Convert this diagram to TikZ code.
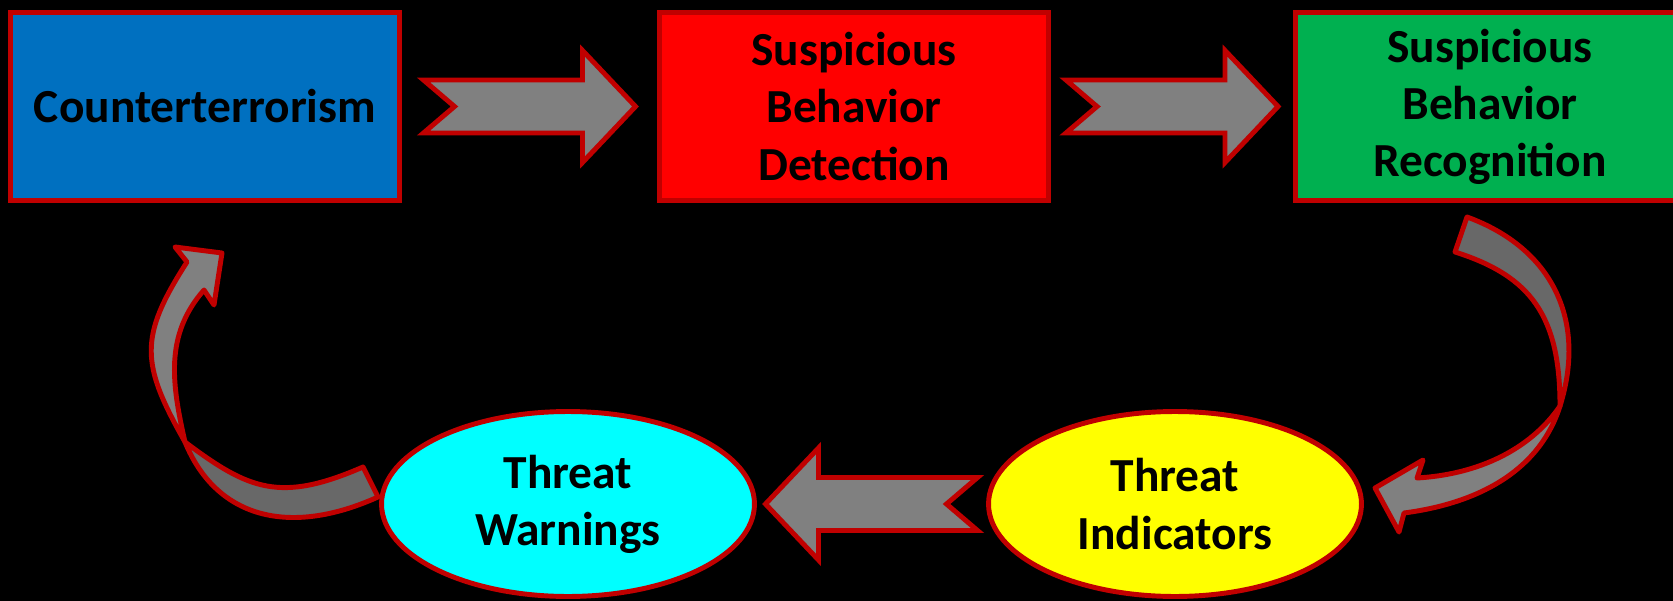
\documentclass[tikz,border=0pt]{standalone}
\usepackage{fontspec}
\newfontfamily\stagefont{Carlito}
\usetikzlibrary{calc,shapes.geometric}

\definecolor{rimred}{HTML}{C00000}
\definecolor{ctblue}{HTML}{0070C0}
\definecolor{ctred}{HTML}{FF0000}
\definecolor{ctgreen}{HTML}{00B050}
\definecolor{ctcyan}{HTML}{00FFFF}
\definecolor{ctyellow}{HTML}{FFFF00}
\definecolor{frontgray}{HTML}{808080}
\definecolor{backgray}{HTML}{686868}

\tikzset{
    stagebox/.style={rectangle, draw=rimred, line width=2.8pt, inner sep=0pt,
        minimum width=7.78cm, minimum height=3.76cm, align=center,
        font=\stagefont\bfseries\fontsize{27}{32.5}\selectfont},
    stageoval/.style={stagebox, ellipse, minimum width=7.46cm, minimum height=3.7cm},
    blockarrow/.style={fill=frontgray, draw=rimred, line width=2.8pt},
    bentarrow/.style={blockarrow, line join=round},
    notched/.pic={
        \filldraw[blockarrow] (-106,-26.5) -- (53,-26.5) -- (53,-56) -- (106,0)
            -- (53,56) -- (53,26.5) -- (-106,26.5) -- (-75,0) -- cycle;
    }
}

\begin{document}
\begin{tikzpicture}[x=0.02cm, y=-0.02cm]
    \path[use as bounding box, fill=black] (0,0) rectangle (1673,601);

    \coordinate (rcross) at (1560,406);
    \coordinate (lcross) at (185,442);

    \filldraw[bentarrow, fill=backgray] (1467,217) .. controls (1552,248) and (1587,320) .. (rcross)
        .. controls (1560,316) and (1531,276) .. (1455,252) -- cycle;
    \filldraw[bentarrow] (rcross) .. controls (1540.5,467.8) and (1483,502.6) .. (1404,513)
        -- (1399,532) -- (1375,488) -- (1423,460) -- (1417,478)
        .. controls (1487,473.8) and (1534.8,443.4) .. (rcross) -- cycle;

    \filldraw[bentarrow, fill=backgray] (lcross) .. controls (215.4,516.4) and (287,538) .. (378,497)
        -- (363,467) .. controls (280.2,503) and (249,490) .. (lcross) -- cycle;
    \filldraw[bentarrow] (lcross) .. controls (140.9,363.7) and (138.4,337.6) .. (187,262)
        -- (175,247) -- (222,253) -- (214,305) -- (204,290)
        .. controls (164.4,335) and (171.8,383.8) .. (lcross) -- cycle;

    \node[stagebox, fill=ctblue] (counter) at (205,106.5) {Counterterrorism};
    \node[stagebox, fill=ctred] (detect) at (854,106.5) {Suspicious\\Behavior\\Detection};
    \node[stagebox, fill=ctgreen] (recog) at (1490,106.5) {Suspicious\\Behavior\\Recognition};
    \node[stageoval, fill=ctyellow] (indic) at (1175,504) {Threat\\Indicators};
    \node[stageoval, fill=ctcyan] (warn) at (568,504) {Threat\\Warnings};

    \pic at ($(counter.east)!0.5!(detect.west)$) {notched};
    \pic at ($(detect.east)!0.5!(recog.west)$) {notched};
    \pic[rotate=180] at ($(indic.west)!0.5!(warn.east)$) {notched};
\end{tikzpicture}
\end{document}
